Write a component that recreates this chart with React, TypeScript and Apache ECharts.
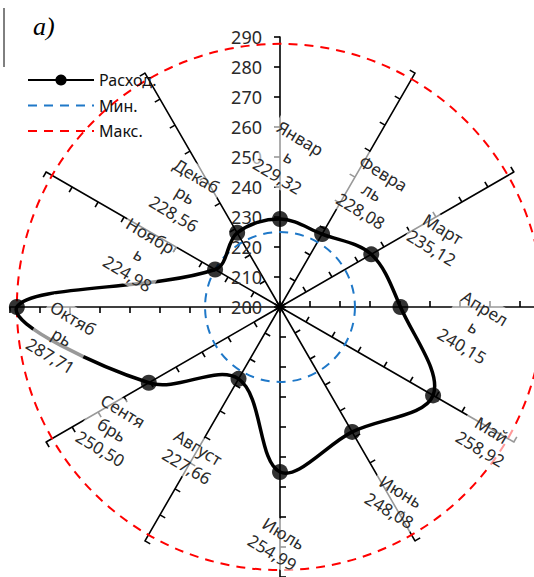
import React, { useEffect, useRef } from "react";
import * as echarts from "echarts";

const months = ["Январь", "Февраль", "Март", "Апрель", "Май", "Июнь", "Июль", "Август", "Сентябрь", "Октябрь", "Ноябрь", "Декабрь"];
const expense = [229.32, 228.08, 235.12, 240.15, 258.92, 248.08, 254.99, 227.66, 250.5, 287.71, 224.98, 228.56];
const minValue = 224.98;
const maxValue = 287.71;
const radiusMin = 200;
const radiusMax = 290;
const radiusStep = 10;

// label text as wrapped in the picture
const labelTexts = [
  "Январ\nь\n229,32",
  "Февра\nль\n228,08",
  "Март\n235,12",
  "Апрел\nь\n240,15",
  "Май\n258,92",
  "Июнь\n248,08",
  "Июль\n254,99",
  "Август\n227,66",
  "Сентя\nбрь\n250,50",
  "Октяб\nрь\n287,71",
  "Ноябр\nь\n224,98",
  "Декаб\nрь\n228,56",
];
// screen offsets of each label block relative to its point
const labelOffsets = [
  [9, -62], [50, -42], [66, -16], [73, 20], [53, 44], [43, 69],
  [-2, 71], [-46, 78], [-37, 47], [45, 30], [-76, -15], [-52, -38],
];

const FONT = '"Noto Sans", "Open Sans", sans-serif';

export default function App() {
  const ref = useRef<HTMLDivElement>(null);
  useEffect(() => {
    if (!ref.current) return;
    const chart = echarts.init(ref.current, null, { renderer: "svg" });
    const step = 360 / months.length;
    const points = expense.map((v, i) => [v, i * step]);
    const center = [280, 307];
    const polar = months.map(() => ({ center, radius: 270 }));
    const angleAxis = months.map((_, i) => ({
      polarIndex: i,
      type: "value",
      min: 0,
      max: 360,
      startAngle: (90 - step * i + 360) % 360,
      clockwise: true,
      show: false,
    }));
    const radiusAxis = months.map((_, i) => ({
      polarIndex: i,
      type: "value",
      min: radiusMin,
      max: radiusMax,
      interval: radiusStep,
      axisLine: { show: true, lineStyle: { color: "#000", width: 1.6 } },
      axisTick: { show: true, length: 6, lineStyle: { color: "#000", width: 1.6 } },
      axisLabel: {
        show: i === 0,
        color: "#2a2a2a",
        fontSize: 18,
        fontFamily: FONT,
        margin: 18,
      },
      splitLine: { show: false },
      z: 1,
    }));

    const option: any = {
      animation: false,
      backgroundColor: "#fff",
      polar,
      angleAxis,
      radiusAxis,
      legend: {
        orient: "vertical",
        left: 22,
        top: 67,
        itemWidth: 66,
        itemHeight: 14,
        itemGap: 9.5,
        textStyle: { fontSize: 16, color: "#111", fontFamily: FONT },
        data: [
          { name: "Расход." },
          { name: "Мин.", itemStyle: { opacity: 0 } },
          { name: "Макс.", itemStyle: { opacity: 0 } },
        ],
        selectedMode: false,
      },
      graphic: [
        { type: "line", shape: { x1: 4, y1: 8, x2: 4, y2: 67 }, style: { stroke: "#000", lineWidth: 1 } },
        {
          type: "text",
          x: 33,
          y: 26,
          style: { text: "а)", font: 'italic 26px "Liberation Serif", serif', fill: "#000", verticalAlign: "middle" },
        },
      ],
      series: [
        // legend-only entries
        {
          type: "line", name: "Расход.", coordinateSystem: "polar", polarIndex: 0, data: [],
          symbol: "circle", symbolSize: 14, itemStyle: { color: "#000" },
          lineStyle: { color: "#000", width: 3 },
        },
        {
          type: "line", name: "Мин.", coordinateSystem: "polar", polarIndex: 0, data: [],
          symbol: "none", itemStyle: { color: "#1f78c8" },
          lineStyle: { color: "#1f78c8", width: 2, type: [9, 7] },
        },
        {
          type: "line", name: "Макс.", coordinateSystem: "polar", polarIndex: 0, data: [],
          symbol: "none", itemStyle: { color: "#ff0000" },
          lineStyle: { color: "#ff0000", width: 2, type: [9, 7] },
        },
        // min / max circles
        {
          type: "custom",
          coordinateSystem: "polar",
          polarIndex: 0,
          z: 3,
          silent: true,
          data: [[minValue, 0], [maxValue, 0]],
          encode: { radius: 0, angle: 1 },
          renderItem: (params: any, api: any) => {
            const c = api.coord([radiusMin, 0]);
            const p = api.coord([api.value(0), 0]);
            const r = Math.hypot(p[0] - c[0], p[1] - c[1]);
            return {
              type: "circle",
              shape: { cx: c[0], cy: c[1], r },
              style: {
                fill: "none",
                stroke: params.dataIndex === 0 ? "#1f78c8" : "#ff0000",
                lineWidth: 2,
                lineDash: [9, 7],
              },
            };
          },
        },
        // smoothed closed expense curve
        {
          type: "custom",
          coordinateSystem: "polar",
          polarIndex: 0,
          z: 4,
          silent: true,
          data: points,
          encode: { radius: 0, angle: 1 },
          renderItem: (params: any, api: any) => {
            if (params.dataIndex !== 0) return null;
            const pts = points.map((d) => api.coord(d));
            return {
              type: "polygon",
              shape: { points: pts, smooth: 0.35 },
              style: { fill: "none", stroke: "#000", lineWidth: 3.5 },
            };
          },
        },
        // markers
        {
          type: "scatter",
          coordinateSystem: "polar",
          polarIndex: 0,
          z: 5,
          symbol: "circle",
          symbolSize: 16,
          itemStyle: { color: "#000" },
          data: points,
        },
        // data labels
        {
          type: "custom",
          coordinateSystem: "polar",
          polarIndex: 0,
          z: 6,
          silent: true,
          data: points,
          encode: { radius: 0, angle: 1 },
          renderItem: (params: any, api: any) => {
            const i = params.dataIndex;
            const p = api.coord(points[i]);
            return {
              type: "text",
              x: p[0] + labelOffsets[i][0],
              y: p[1] + labelOffsets[i][1],
              rotation: -Math.PI / 5.8,
              style: {
                text: labelTexts[i],
                font: `17px ${FONT}`,
                fill: "#2a2a2a",
                align: "center",
                verticalAlign: "middle",
                lineHeight: 22,
                backgroundColor: "rgba(255,255,255,0.6)",
                padding: [0, 2],
              },
            };
          },
        },
      ],
    };
    chart.setOption(option);
    return () => chart.dispose();
  }, []);
  return <div ref={ref} style={{ position: "fixed", left: 0, top: 0, width: 534, height: 577 }} />;
}
